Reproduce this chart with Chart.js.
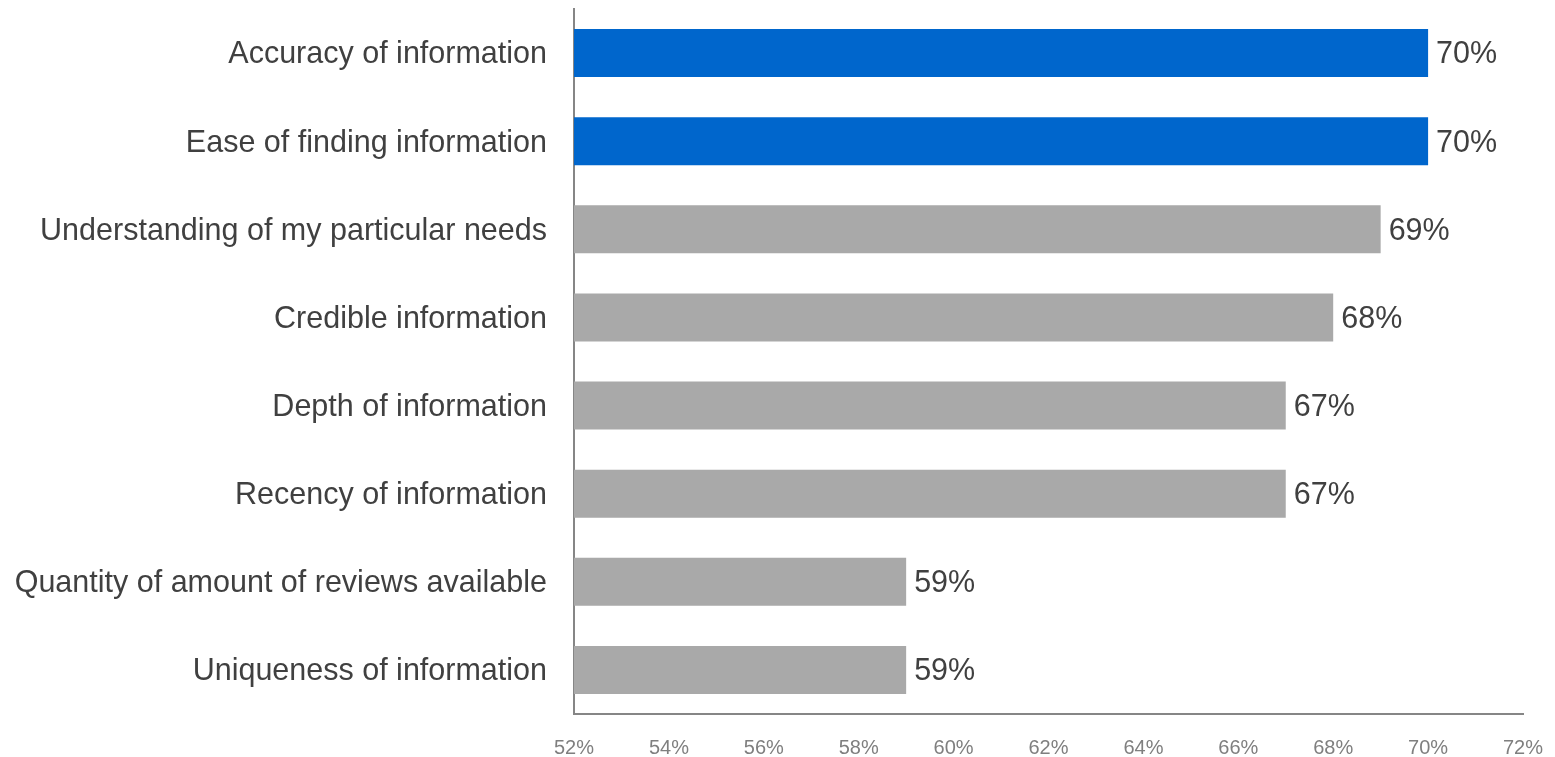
<!DOCTYPE html>
<html>
<head>
<meta charset="utf-8">
<script src="https://cdn.jsdelivr.net/npm/chart.js@4/dist/chart.umd.min.js"></script>
<style>
  html, body { margin: 0; padding: 0; background: #ffffff; }
  #wrap { width: 1555px; height: 757px; }
</style>
</head>
<body>
<div id="wrap"><canvas id="chart"></canvas></div>
<script>
const categories = [
    'Accuracy of information',
    'Ease of finding information',
    'Understanding of my particular needs',
    'Credible information',
    'Depth of information',
    'Recency of information',
    'Quantity of amount of reviews available',
    'Uniqueness of information'
];
const values = [70, 70, 69, 68, 67, 67, 59, 59];
const highlighted = [true, true, false, false, false, false, false, false];

const BLUE = '#0066cc';
const GREY = '#a9a9a9';
const FONT = '"Liberation Sans", Arial, sans-serif';

// value labels at the end of each bar
const barLabels = {
    id: 'barLabels',
    afterDatasetsDraw(chart) {
        const ctx = chart.ctx;
        const meta = chart.getDatasetMeta(0);
        ctx.save();
        ctx.font = '30.5px ' + FONT;
        ctx.fillStyle = '#404040';
        ctx.textAlign = 'left';
        ctx.textBaseline = 'middle';
        meta.data.forEach((bar, i) => {
            ctx.fillText(values[i] + '%', bar.x + 8, bar.y + 2);
        });
        ctx.restore();
    }
};

const ctx = document.getElementById('chart');

let chart = new Chart(ctx, {
    type: 'bar',
    data: {
        labels: categories,
        datasets: [{
            data: values,
            backgroundColor: highlighted.map(h => h ? BLUE : GREY),
            borderWidth: 0,
            barPercentage: 0.545,
            categoryPercentage: 1
        }]
    },
    options: {
        indexAxis: 'y',
        responsive: true,
        maintainAspectRatio: false,
        animation: false,
        layout: { padding: { top: 9, right: 32, left: 0, bottom: 0 } },
        scales: {
            x: {
                min: 52,
                max: 72,
                ticks: {
                    stepSize: 2,
                    color: '#7f7f7f',
                    font: { family: FONT, size: 20 },
                    padding: 22,
                    callback: v => v + '%'
                },
                grid: { display: false, drawTicks: false },
                border: { display: true, color: '#868686', width: 2 },
                afterFit(scale) {
                    scale.height = 43;
                    scale.paddingLeft = 0;
                    scale.paddingRight = 0;
                }
            },
            y: {
                ticks: {
                    color: '#404040',
                    font: { family: FONT, size: 30.5 },
                    padding: 27,
                    labelOffset: 2
                },
                grid: { display: false, drawTicks: false },
                border: { display: true, color: '#868686', width: 2 },
                afterFit(scale) {
                    scale.width = 574;
                    scale.paddingTop = 0;
                    scale.paddingBottom = 0;
                }
            }
        },
        plugins: {
            legend: { display: false },
            title: { display: false },
            tooltip: { enabled: false }
        }
    },
    plugins: [barLabels]
});
</script>
</body>
</html>
